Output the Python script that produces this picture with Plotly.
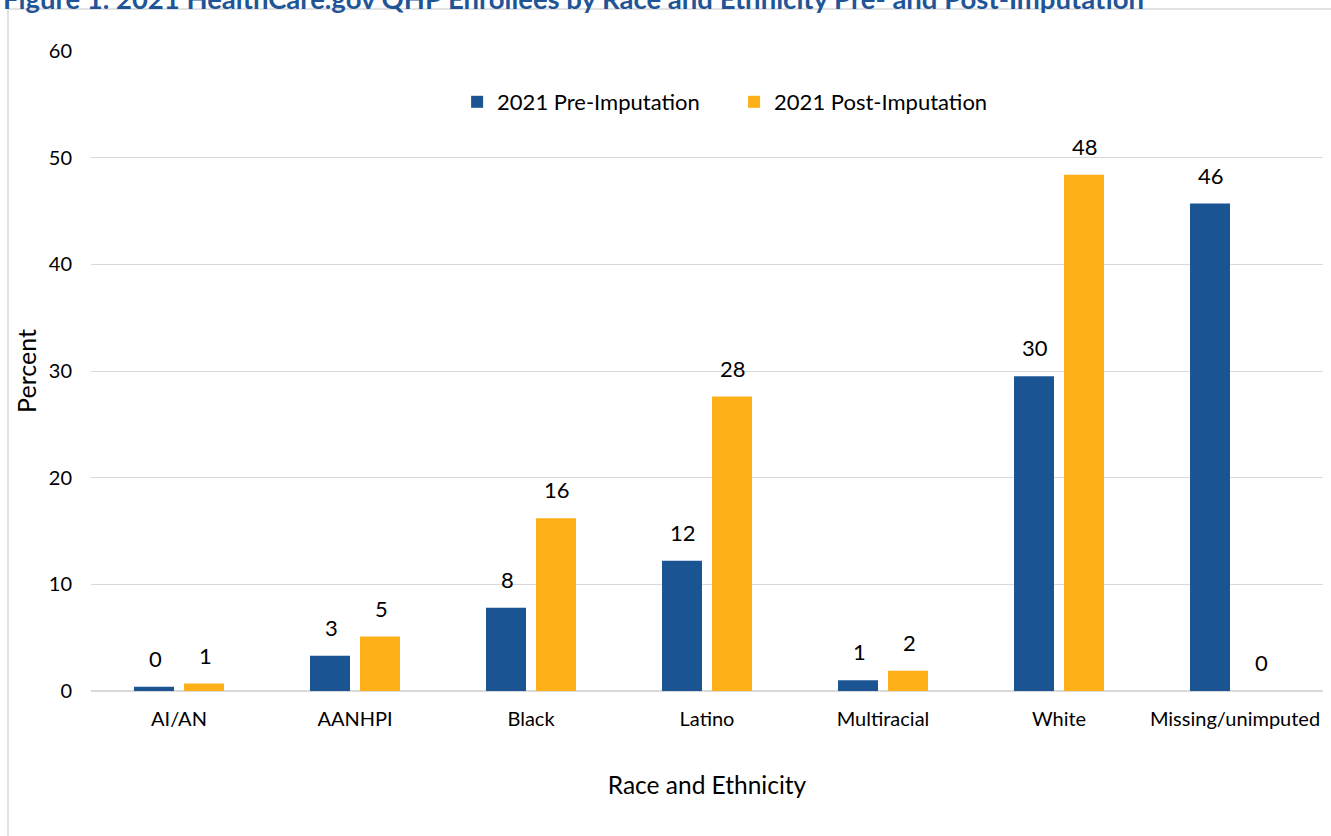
import plotly.graph_objects as go

categories = ["AI/AN", "AANHPI", "Black", "Latino", "Multiracial", "White", "Missing/unimputed"]
pre_values = [0.4, 3.3, 7.8, 12.2, 1.0, 29.5, 45.7]
post_values = [0.7, 5.1, 16.2, 27.6, 1.9, 48.4, 0.0]
series_names = ["2021 Pre-Imputation", "2021 Post-Imputation"]
y_ticks = [0, 10, 20, 30, 40, 50, 60]
title_text = "Figure 1. 2021 HealthCare.gov QHP Enrollees by Race and Ethnicity Pre- and Post-Imputation"

BLUE = "#1A5493"
ORANGE = "#FCAF17"
FONT = "Lato"

fig = go.Figure()
fig.add_trace(go.Bar(x=categories, y=pre_values, name=series_names[0],
                     marker=dict(color=BLUE, line=dict(width=0))))
fig.add_trace(go.Bar(x=categories, y=post_values, name=series_names[1],
                     marker=dict(color=ORANGE, line=dict(width=0))))

annotations = []
for vals, shift in ((pre_values, -24), (post_values, 26)):
    for c, v in zip(categories, vals):
        annotations.append(dict(x=c, y=v, xref="x", yref="y", text=str(int(v + 0.5)),
                                showarrow=False, xshift=shift, yanchor="bottom", yshift=13,
                                font=dict(family=FONT, size=22, color="#000000")))

annotations.append(dict(x=-90/1232, y=(691-17)/640, xref="paper", yref="paper",
                        xanchor="left", yanchor="bottom", showarrow=False,
                        text="<b>" + title_text + "</b>",
                        font=dict(family=FONT, size=27.5, color="#1F5597")))

fig.update_layout(
    width=1331, height=836,
    margin=dict(l=91, r=8, t=51, b=145),
    paper_bgcolor="white", plot_bgcolor="white",
    barmode="group", bargap=0.432, bargroupgap=0.2,
    font=dict(family=FONT, size=20, color="#000000"),
    legend=dict(orientation="h", x=0.522, xanchor="center", y=(691-102)/640, yanchor="middle",
                font=dict(family=FONT, size=22), itemwidth=30, entrywidth=232,
                bgcolor="rgba(0,0,0,0)"),
    xaxis=dict(title=dict(text="Race and Ethnicity", font=dict(family=FONT, size=24.5), standoff=47),
               showgrid=False, showline=False, ticks="", tickfont=dict(family=FONT, size=20),
               ticklabelstandoff=14),
    yaxis=dict(title=dict(text="Percent", font=dict(family=FONT, size=25), standoff=5),
               range=[0, 60], tickvals=y_ticks, showgrid=True, gridcolor="#D9D9D9", gridwidth=1,
               zeroline=True, zerolinecolor="#D9D9D9", zerolinewidth=2,
               ticks="", tickfont=dict(family=FONT, size=20), ticklabelstandoff=18),
    annotations=annotations,
    shapes=[dict(type="rect", xref="paper", yref="paper", x0=(8-91)/1232, x1=1.2,
                 y0=-0.5, y1=(691-9)/640, line=dict(color="#D9D9D9", width=1.5),
                 fillcolor="rgba(0,0,0,0)", layer="below")],
)

fig.write_html("out.html")
